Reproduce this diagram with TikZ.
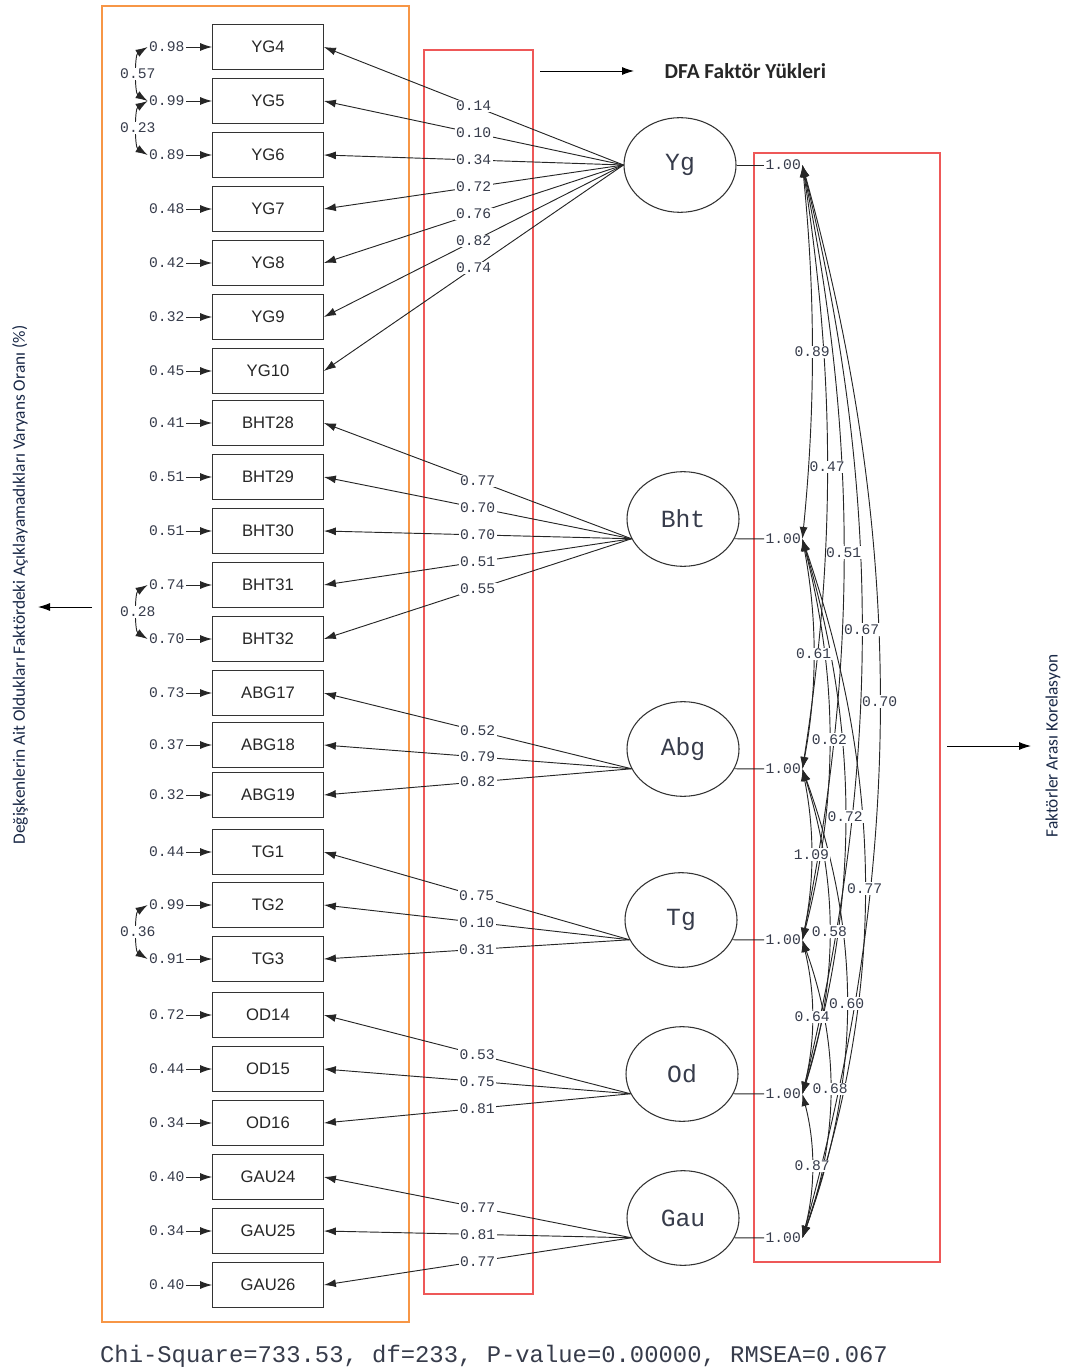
\documentclass[tikz,border=0pt]{standalone}
\usepackage{fontspec}
\usetikzlibrary{arrows.meta,shapes.geometric}
\newfontfamily\lisrel{Liberation Mono}
\newfontfamily\arial{Liberation Sans}
\newfontfamily\calibri{Carlito}
\definecolor{frameorange}{RGB}{247,150,70}
\definecolor{framered}{RGB}{238,88,88}
\definecolor{notenavy}{RGB}{25,40,70}
\definecolor{numgray}{RGB}{55,60,75}

\begin{document}
\begin{tikzpicture}[x=0.75pt,y=-0.75pt,>={Latex[length=9pt,width=6pt]}]
        \tikzstyle{item}=[draw=black!80,line width=0.8pt,minimum width=83pt,minimum height=33.5pt,inner sep=0pt,font=\arial\fontsize{12.5}{14}\selectfont,text=black!85]
        \tikzstyle{factor}=[ellipse,draw=black!80,line width=0.8pt,minimum width=84pt,minimum height=71pt,inner sep=0pt,font=\lisrel\fontsize{18.5}{21}\selectfont,text=numgray]
        \tikzstyle{num}=[font=\lisrel\fontsize{11}{12}\selectfont,text=numgray,inner sep=1pt]
        \tikzstyle{load}=[num,fill=white]
        \tikzstyle{errline}=[->,line width=0.7pt,draw=black!85]
        \tikzstyle{loadline}=[->,line width=0.7pt,draw=black!85]
        \tikzstyle{corr}=[<->,line width=0.7pt,draw=black!85]
        \tikzstyle{note}=[font=\calibri\fontsize{13}{15}\selectfont,text=notenavy]

        \useasboundingbox (0,0) rectangle (1067,1369);

        % frames
        \draw[frameorange,line width=1pt] (102,6) rectangle (409,1322);
        \draw[framered,line width=1.1pt] (424,50) rectangle (533,1294);
        \draw[framered,line width=1.1pt] (754,153) rectangle (940,1262);

        % observed variables
        \node[item] (YG4) at (268,47) {YG4};
        \node[item] (YG5) at (268,101) {YG5};
        \node[item] (YG6) at (268,155) {YG6};
        \node[item] (YG7) at (268,209) {YG7};
        \node[item] (YG8) at (268,263) {YG8};
        \node[item] (YG9) at (268,317) {YG9};
        \node[item] (YG10) at (268,371) {YG10};
        \node[item] (BHT28) at (268,423) {BHT28};
        \node[item] (BHT29) at (268,477) {BHT29};
        \node[item] (BHT30) at (268,531) {BHT30};
        \node[item] (BHT31) at (268,585) {BHT31};
        \node[item] (BHT32) at (268,639) {BHT32};
        \node[item] (ABG17) at (268,693) {ABG17};
        \node[item] (ABG18) at (268,745) {ABG18};
        \node[item] (ABG19) at (268,795) {ABG19};
        \node[item] (TG1) at (268,852) {TG1};
        \node[item] (TG2) at (268,905) {TG2};
        \node[item] (TG3) at (268,959) {TG3};
        \node[item] (OD14) at (268,1015) {OD14};
        \node[item] (OD15) at (268,1069) {OD15};
        \node[item] (OD16) at (268,1123) {OD16};
        \node[item] (GAU24) at (268,1177) {GAU24};
        \node[item] (GAU25) at (268,1231) {GAU25};
        \node[item] (GAU26) at (268,1285) {GAU26};

        % error variances
        \node[num,anchor=east] (eYG4) at (186,47) {0.98};
        \node[num,anchor=east] (eYG5) at (186,101) {0.99};
        \node[num,anchor=east] (eYG6) at (186,155) {0.89};
        \node[num,anchor=east] (eYG7) at (186,209) {0.48};
        \node[num,anchor=east] (eYG8) at (186,263) {0.42};
        \node[num,anchor=east] (eYG9) at (186,317) {0.32};
        \node[num,anchor=east] (eYG10) at (186,371) {0.45};
        \node[num,anchor=east] (eBHT28) at (186,423) {0.41};
        \node[num,anchor=east] (eBHT29) at (186,477) {0.51};
        \node[num,anchor=east] (eBHT30) at (186,531) {0.51};
        \node[num,anchor=east] (eBHT31) at (186,585) {0.74};
        \node[num,anchor=east] (eBHT32) at (186,639) {0.70};
        \node[num,anchor=east] (eABG17) at (186,693) {0.73};
        \node[num,anchor=east] (eABG18) at (186,745) {0.37};
        \node[num,anchor=east] (eABG19) at (186,795) {0.32};
        \node[num,anchor=east] (eTG1) at (186,852) {0.44};
        \node[num,anchor=east] (eTG2) at (186,905) {0.99};
        \node[num,anchor=east] (eTG3) at (186,959) {0.91};
        \node[num,anchor=east] (eOD14) at (186,1015) {0.72};
        \node[num,anchor=east] (eOD15) at (186,1069) {0.44};
        \node[num,anchor=east] (eOD16) at (186,1123) {0.34};
        \node[num,anchor=east] (eGAU24) at (186,1177) {0.40};
        \node[num,anchor=east] (eGAU25) at (186,1231) {0.34};
        \node[num,anchor=east] (eGAU26) at (186,1285) {0.40};

        \draw[errline] (eYG4) -- (YG4);
        \draw[errline] (eYG5) -- (YG5);
        \draw[errline] (eYG6) -- (YG6);
        \draw[errline] (eYG7) -- (YG7);
        \draw[errline] (eYG8) -- (YG8);
        \draw[errline] (eYG9) -- (YG9);
        \draw[errline] (eYG10) -- (YG10);
        \draw[errline] (eBHT28) -- (BHT28);
        \draw[errline] (eBHT29) -- (BHT29);
        \draw[errline] (eBHT30) -- (BHT30);
        \draw[errline] (eBHT31) -- (BHT31);
        \draw[errline] (eBHT32) -- (BHT32);
        \draw[errline] (eABG17) -- (ABG17);
        \draw[errline] (eABG18) -- (ABG18);
        \draw[errline] (eABG19) -- (ABG19);
        \draw[errline] (eTG1) -- (TG1);
        \draw[errline] (eTG2) -- (TG2);
        \draw[errline] (eTG3) -- (TG3);
        \draw[errline] (eOD14) -- (OD14);
        \draw[errline] (eOD15) -- (OD15);
        \draw[errline] (eOD16) -- (OD16);
        \draw[errline] (eGAU24) -- (GAU24);
        \draw[errline] (eGAU25) -- (GAU25);
        \draw[errline] (eGAU26) -- (GAU26);

        % error covariances
        \draw[corr] (eYG4.west) .. controls +(-13,8) and +(-13,-8) .. node[load] {0.57} (eYG5.west);
        \draw[corr] (eYG5.west) .. controls +(-13,8) and +(-13,-8) .. node[load] {0.23} (eYG6.west);
        \draw[corr] (eBHT31.west) .. controls +(-13,8) and +(-13,-8) .. node[load] {0.28} (eBHT32.west);
        \draw[corr] (eTG2.west) .. controls +(-13,8) and +(-13,-8) .. node[load] {0.36} (eTG3.west);

        % latent factors
        \node[factor] (Yg) at (680,165) {Yg};
        \node[factor] (Bht) at (683,519) {Bht};
        \node[factor] (Abg) at (683,749) {Abg};
        \node[factor] (Tg) at (681,920) {Tg};
        \node[factor] (Od) at (682,1074) {Od};
        \node[factor] (Gau) at (683,1218) {Gau};

        % factor loadings
        \draw[loadline] (Yg.west) -- node[load] {0.14} (YG4.east);
        \draw[loadline] (Yg.west) -- node[load] {0.10} (YG5.east);
        \draw[loadline] (Yg.west) -- node[load] {0.34} (YG6.east);
        \draw[loadline] (Yg.west) -- node[load] {0.72} (YG7.east);
        \draw[loadline] (Yg.west) -- node[load] {0.76} (YG8.east);
        \draw[loadline] (Yg.west) -- node[load] {0.82} (YG9.east);
        \draw[loadline] (Yg.west) -- node[load] {0.74} (YG10.east);
        \draw[loadline] (Bht.201) -- node[load] {0.77} (BHT28.east);
        \draw[loadline] (Bht.201) -- node[load] {0.70} (BHT29.east);
        \draw[loadline] (Bht.201) -- node[load] {0.70} (BHT30.east);
        \draw[loadline] (Bht.201) -- node[load] {0.51} (BHT31.east);
        \draw[loadline] (Bht.201) -- node[load] {0.55} (BHT32.east);
        \draw[loadline] (Abg.201) -- node[load] {0.52} (ABG17.east);
        \draw[loadline] (Abg.201) -- node[load] {0.79} (ABG18.east);
        \draw[loadline] (Abg.201) -- node[load] {0.82} (ABG19.east);
        \draw[loadline] (Tg.201) -- node[load] {0.75} (TG1.east);
        \draw[loadline] (Tg.201) -- node[load] {0.10} (TG2.east);
        \draw[loadline] (Tg.201) -- node[load] {0.31} (TG3.east);
        \draw[loadline] (Od.201) -- node[load] {0.53} (OD14.east);
        \draw[loadline] (Od.201) -- node[load] {0.75} (OD15.east);
        \draw[loadline] (Od.201) -- node[load] {0.81} (OD16.east);
        \draw[loadline] (Gau.201) -- node[load] {0.77} (GAU24.east);
        \draw[loadline] (Gau.201) -- node[load] {0.81} (GAU25.east);
        \draw[loadline] (Gau.201) -- node[load] {0.77} (GAU26.east);

        % factor variances
        \node[num,anchor=west] (vYg) at (764,165) {1.00};
        \node[num,anchor=west] (vBht) at (764,539) {1.00};
        \node[num,anchor=west] (vAbg) at (764,769) {1.00};
        \node[num,anchor=west] (vTg) at (764,940) {1.00};
        \node[num,anchor=west] (vOd) at (764,1094) {1.00};
        \node[num,anchor=west] (vGau) at (764,1238) {1.00};
        \draw[line width=0.7pt,draw=black!85] (Yg.east) -- (vYg);
        \draw[line width=0.7pt,draw=black!85] (Bht.339) -- (vBht);
        \draw[line width=0.7pt,draw=black!85] (Abg.339) -- (vAbg);
        \draw[line width=0.7pt,draw=black!85] (Tg.339) -- (vTg);
        \draw[line width=0.7pt,draw=black!85] (Od.339) -- (vOd);
        \draw[line width=0.7pt,draw=black!85] (Gau.339) -- (vGau);

        % factor correlations
        \draw[corr] (vYg.east) .. controls +(103,375) and +(103,-375) .. node[load] {0.70} (vGau.east);
        \draw[corr] (vYg.east) .. controls +(79,325) and +(79,-325) .. node[load] {0.67} (vOd.east);
        \draw[corr] (vYg.east) .. controls +(55,272) and +(55,-272) .. node[load] {0.51} (vTg.east);
        \draw[corr] (vYg.east) .. controls +(33,212) and +(33,-212) .. node[load] {0.47} (vAbg.east);
        \draw[corr] (vYg.east) .. controls +(13,131) and +(13,-131) .. node[load] {0.89} (vBht.east);
        \draw[corr] (vBht.east) .. controls +(83,244) and +(83,-244) .. node[load] {0.77} (vGau.east);
        \draw[corr] (vBht.east) .. controls +(57,194) and +(57,-194) .. node[load] {0.72} (vOd.east);
        \draw[corr] (vBht.east) .. controls +(36,140) and +(36,-140) .. node[load] {0.62} (vTg.east);
        \draw[corr] (vBht.east) .. controls +(15,80) and +(15,-80) .. node[load] {0.61} (vAbg.east);
        \draw[corr] (vAbg.east) .. controls +(59,163) and +(59,-163) .. node[load] {0.60} (vGau.east);
        \draw[corr] (vAbg.east) .. controls +(36,114) and +(36,-114) .. node[load] {0.58} (vOd.east);
        \draw[corr] (vAbg.east) .. controls +(12,60) and +(12,-60) .. node[load] {1.09} (vTg.east);
        \draw[corr] (vTg.east) .. controls +(37,104) and +(37,-104) .. node[load] {0.68} (vGau.east);
        \draw[corr] (vTg.east) .. controls +(13,54) and +(13,-54) .. node[load] {0.64} (vOd.east);
        \draw[corr] (vOd.east) .. controls +(13,50) and +(13,-50) .. node[load] {0.87} (vGau.east);

        % notes
        \coordinate (dfaFrom) at (540,71);
        \coordinate (dfaTo) at (634,71);
        \node[note,anchor=west,font=\calibri\bfseries\fontsize{16}{18}\selectfont,text=black!85] (dfa) at (660,71) {DFA Faktör Yükleri};
        \draw[->,line width=0.7pt] (dfaFrom) -- (dfaTo);

        \coordinate (errFrom) at (92,607);
        \coordinate (errTo) at (38,607);
        \node[note,rotate=90] (errnote) at (20,585) {Değişkenlerin Ait Oldukları Faktördeki Açıklayamadıkları Varyans Oranı (\%)};
        \draw[->,line width=0.7pt] (errFrom) -- (errTo);

        \coordinate (corFrom) at (947,746);
        \coordinate (corTo) at (1031,746);
        \node[note,rotate=90] (cornote) at (1053,746) {Faktörler Arası Korelasyon};
        \draw[->,line width=0.7pt] (corFrom) -- (corTo);

        \node[font=\lisrel\fontsize{17.9}{19}\selectfont,text=numgray] (fit) at (494,1356) {Chi-Square=733.53, df=233, P-value=0.00000, RMSEA=0.067};
    \end{tikzpicture}
\end{document}
